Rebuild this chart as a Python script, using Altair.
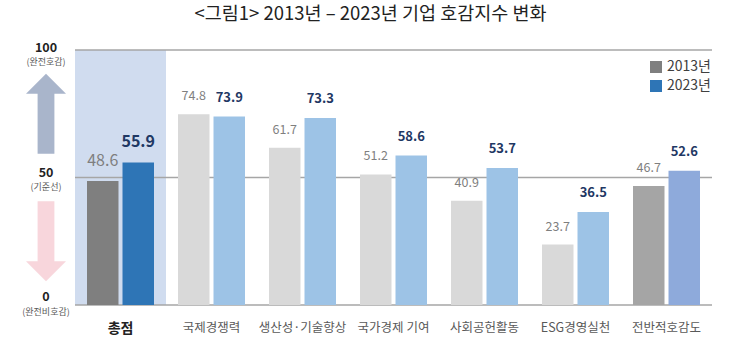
import altair as alt
import pandas as pd

categories = ["총점", "국제경쟁력", "생산성·기술향상", "국가경제 기여", "사회공헌활동", "ESG경영실천", "전반적호감도"]
years = ["2013년", "2023년"]
values_2013 = [48.6, 74.8, 61.7, 51.2, 40.9, 23.7, 46.7]
values_2023 = [55.9, 73.9, 73.3, 58.6, 53.7, 36.5, 52.6]
fills_2013 = ["#7f7f7f", "#d9d9d9", "#d9d9d9", "#d9d9d9", "#d9d9d9", "#d9d9d9", "#a5a5a5"]
fills_2023 = ["#2e75b6", "#9dc3e6", "#9dc3e6", "#9dc3e6", "#9dc3e6", "#9dc3e6", "#8eaadb"]
legend_colors = ["#7f7f7f", "#2e75b6"]
ref_lines = [0, 50, 100]

FONT = "Noto Sans CJK KR"

rows = []
for i, c in enumerate(categories):
    rows.append({"category": c, "year": years[0], "value": values_2013[i], "fill": fills_2013[i],
                 "label": f"{values_2013[i]:.1f}", "total": c == "총점"})
    rows.append({"category": c, "year": years[1], "value": values_2023[i], "fill": fills_2023[i],
                 "label": f"{values_2023[i]:.1f}", "total": c == "총점"})
df = pd.DataFrame(rows)

x_scale = alt.Scale(domain=categories, paddingInner=0, paddingOuter=0)
x_axis = alt.Axis(title=None, ticks=False, domain=False, labelAngle=0,
                  labelPadding=16,
                  labelColor={"expr": "datum.value == '총점' ? '#222222' : '#595959'"},
                  labelFont=FONT,
                  labelFontSize={"expr": "datum.value == '총점' ? 14 : 12.5"},
                  labelFontWeight={"expr": "datum.value == '총점' ? 'bold' : 'normal'"})
x_enc = alt.X("category:N", sort=categories, scale=x_scale, axis=x_axis)
xo = alt.XOffset("year:N", sort=years, scale=alt.Scale(paddingInner=0.113, paddingOuter=0.338))
y_scale = alt.Scale(domain=[0, 100], nice=False, zero=True)

base = alt.Chart(df)

band = alt.Chart(pd.DataFrame({"category": ["총점"], "lo": [0], "hi": [100]})).mark_bar(
    color="#d0dcef").encode(
    x=x_enc,
    y=alt.Y("lo:Q", scale=y_scale, axis=None), y2="hi:Q")

rules = alt.Chart(pd.DataFrame({"v": ref_lines})).mark_rule(color="#a6a6a6", strokeWidth=1.5).encode(
    y=alt.Y("v:Q", scale=y_scale, axis=None))

bars = base.mark_bar().encode(
    x=x_enc, xOffset=xo,
    y=alt.Y("value:Q", scale=y_scale, axis=None),
    fill=alt.Fill("fill:N", scale=None))

# legend carrier (drawn off-canvas to the left so only its legend shows)
legend_layer = alt.Chart(pd.DataFrame({"year": years})).mark_square(size=144, opacity=1).encode(
    x=alt.value(-2000), y=alt.value(120),
    color=alt.Color("year:N", sort=years, scale=alt.Scale(domain=years, range=legend_colors),
                    legend=alt.Legend(title=None, orient="none", legendX=574, legendY=10,
                                      symbolType="square", symbolSize=144, symbolStrokeWidth=0,
                                      symbolOpacity=1,
                                      labelFontSize=14, labelFont=FONT, labelColor="#404040",
                                      rowPadding=5, labelOffset=4, padding=0)))


def value_text(year, total, size, weight, color, dy):
    return base.transform_filter(
        (alt.datum.year == year) & (alt.datum.total == total)
    ).mark_text(font=FONT, fontSize=size, fontWeight=weight, color=color, dy=dy, baseline="middle").encode(
        x=x_enc, xOffset=xo, y=alt.Y("value:Q", scale=y_scale, axis=None), text="label:N")


texts = [
    value_text(years[0], True, 16, "normal", "#7f7f7f", -20),
    value_text(years[1], True, 16, "bold", "#1f3864", -20),
    value_text(years[0], False, 12.5, "normal", "#7f7f7f", -18),
    value_text(years[1], False, 13, "bold", "#1f3864", -19),
]

side_df = pd.DataFrame({"v": [100, 50, 0], "main": ["100", "50", "0"],
                        "sub": ["(완전호감)", "(기준선)", "(완전비호감)"]})


def side_text(v, field, size, weight, color, dy):
    return alt.Chart(side_df).transform_filter(alt.datum.v == v).mark_text(
        font=FONT, fontSize=size, fontWeight=weight, color=color, dy=dy, baseline="middle", align="center"
    ).encode(x=alt.value(-29), y=alt.Y("v:Q", scale=y_scale, axis=None), text=f"{field}:N")


side = [
    side_text(100, "main", 12.5, "bold", "#222222", -2),
    side_text(100, "sub", 9, "normal", "#595959", 12),
    side_text(50, "main", 12.5, "bold", "#222222", -5),
    side_text(50, "sub", 9, "normal", "#595959", 9),
    side_text(0, "main", 12.5, "bold", "#222222", -8),
    side_text(0, "sub", 9, "normal", "#595959", 7),
]

up_path = "M0,-1 L0.5,-0.5 L0.21,-0.5 L0.21,1 L-0.21,1 L-0.21,-0.5 L-0.5,-0.5 Z"
down_path = "M0,1 L0.5,0.5 L0.21,0.5 L0.21,-1 L-0.21,-1 L-0.21,0.5 L-0.5,0.5 Z"
arrow_df = pd.DataFrame({"v": [75, 25]})
up_arrow = alt.Chart(arrow_df).transform_filter(alt.datum.v == 75).mark_point(
    shape=up_path, size=6400, filled=True, fill="#a9b5cb", opacity=1, strokeWidth=0).encode(
    x=alt.value(-29), y=alt.Y("v:Q", scale=y_scale, axis=None))
down_arrow = alt.Chart(arrow_df).transform_filter(alt.datum.v == 25).mark_point(
    shape=down_path, size=6400, filled=True, fill="#f8d6dc", opacity=1, strokeWidth=0).encode(
    x=alt.value(-29), y=alt.Y("v:Q", scale=y_scale, axis=None))

chart = alt.layer(band, rules, bars, *texts, *side, up_arrow, down_arrow, legend_layer).properties(
    width=637, height=255,
    title=alt.TitleParams("<그림1> 2013년 – 2023년 기업 호감지수 변화", font=FONT, fontSize=18.5,
                          fontWeight="normal", color="#222222", anchor="middle", frame="group",
                          dx=-23, offset=19),
    autosize=alt.AutoSizeParams(type="none"),
    padding={"left": 75, "top": 50, "right": 18, "bottom": 46},
    background="white",
).configure_view(stroke=None)

chart.save("out.html", embed_options={"renderer": "svg", "actions": False})
